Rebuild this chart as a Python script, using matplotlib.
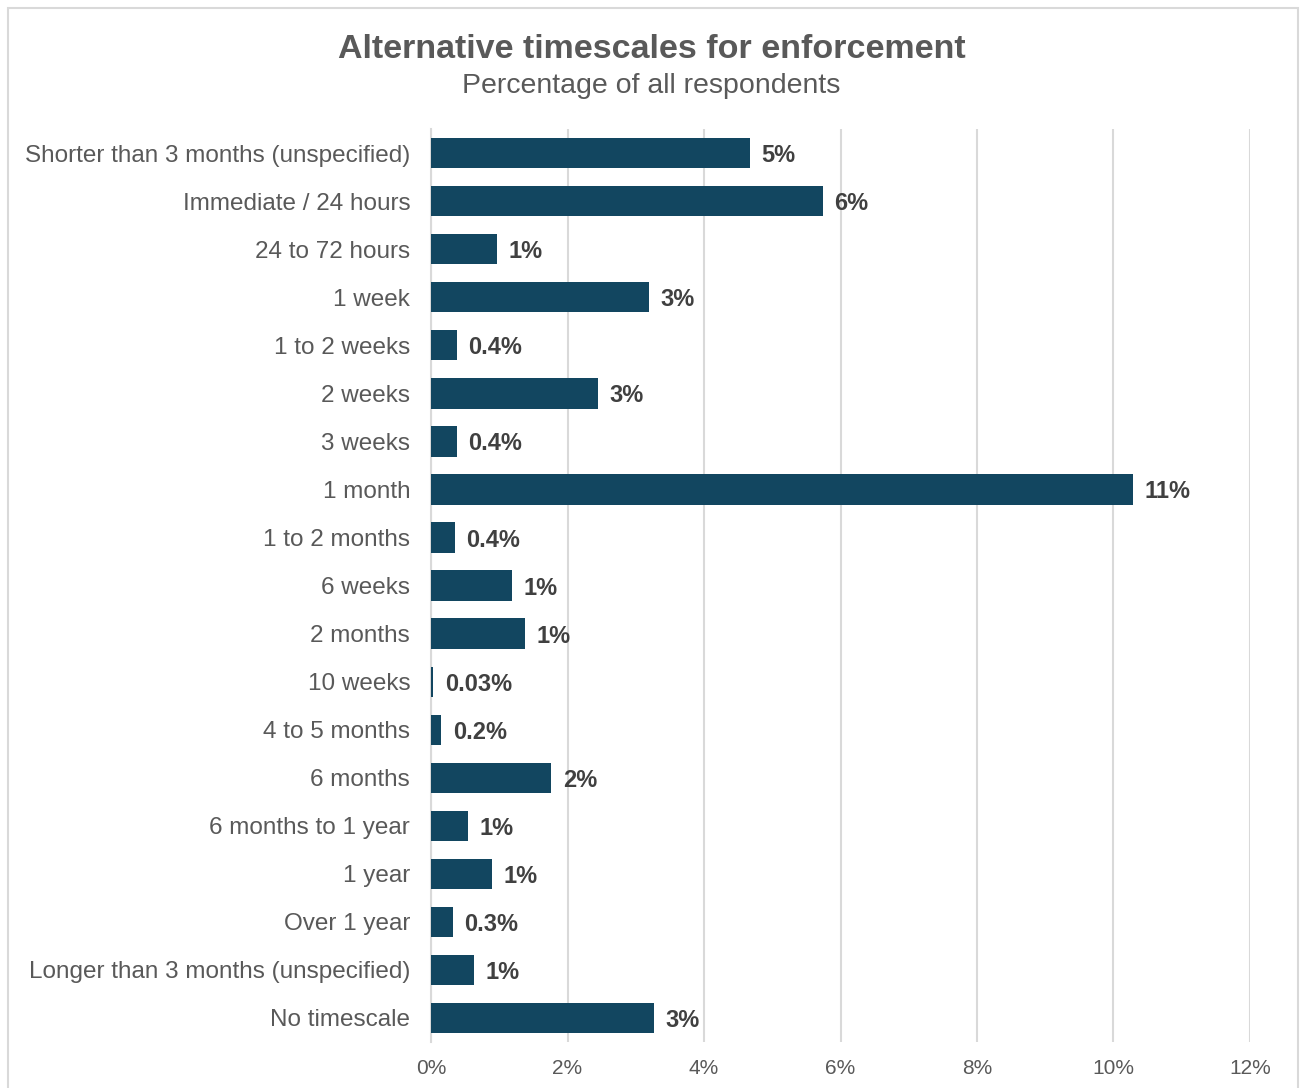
import matplotlib.pyplot as plt
from matplotlib.patches import Rectangle
from matplotlib.ticker import FuncFormatter

# Alternative timescales for enforcement (% of all respondents)
categories = [
    "Shorter than 3 months (unspecified)",
    "Immediate / 24 hours",
    "24 to 72 hours",
    "1 week",
    "1 to 2 weeks",
    "2 weeks",
    "3 weeks",
    "1 month",
    "1 to 2 months",
    "6 weeks",
    "2 months",
    "10 weeks",
    "4 to 5 months",
    "6 months",
    "6 months to 1 year",
    "1 year",
    "Over 1 year",
    "Longer than 3 months (unspecified)",
    "No timescale",
]
values = [4.67, 5.74, 0.97, 3.19, 0.38, 2.45, 0.38, 10.29, 0.35, 1.19,
          1.38, 0.03, 0.15, 1.76, 0.54, 0.89, 0.32, 0.63, 3.27]
value_labels = ["5%", "6%", "1%", "3%", "0.4%", "3%", "0.4%", "11%", "0.4%", "1%",
                "1%", "0.03%", "0.2%", "2%", "1%", "1%", "0.3%", "1%", "3%"]
x_ticks = [0, 2, 4, 6, 8, 10, 12]

BAR_COLOR = "#124660"
TEXT_GREY = "#595959"
LABEL_DARK = "#404040"
GRID_GREY = "#d9d9d9"

plt.rcParams["font.family"] = ["Liberation Sans", "DejaVu Sans"]

fig = plt.figure(figsize=(13.03, 10.88), dpi=100)
ax = fig.add_axes([0.3308, 0.0423, 0.6285, 0.839])

# outer chart border
fig.patches.append(Rectangle((8 / 1303, -0.02), 1290 / 1303, 1.02 - 8 / 1088,
                             transform=fig.transFigure, fill=False,
                             edgecolor="#d9d9d9", linewidth=1.5))

y = list(range(len(categories)))
ax.barh(y, values, height=0.63, color=BAR_COLOR, zorder=3)

for yi, v, lab in zip(y, values, value_labels):
    ax.text(v + 0.17, yi, lab, va="center_baseline", ha="left", fontsize=17,
            fontweight="bold", color=LABEL_DARK, zorder=4)

ax.set_ylim(len(categories) - 0.5, -0.5)
ax.set_xlim(0, 12)
ax.set_yticks(y)
ax.set_yticklabels(categories, fontsize=17.5, color=TEXT_GREY)
ax.set_xticks(x_ticks)
ax.xaxis.set_major_formatter(FuncFormatter(lambda v, _: f"{v:.0f}%"))
ax.tick_params(axis="x", labelsize=15, colors=TEXT_GREY, length=0, pad=12)
ax.tick_params(axis="y", length=0, pad=15)

ax.grid(axis="x", color=GRID_GREY, linewidth=1.5, zorder=0)
for side in ["top", "right", "bottom"]:
    ax.spines[side].set_visible(False)
ax.spines["left"].set_color(GRID_GREY)
ax.spines["left"].set_linewidth(1.5)

fig.text(0.5, 1 - 50 / 1088, "Alternative timescales for enforcement",
         ha="center", va="center", fontsize=24.5, fontweight="bold", color=TEXT_GREY)
fig.text(0.5, 1 - 86 / 1088, "Percentage of all respondents",
         ha="center", va="center", fontsize=20.5, color=TEXT_GREY)

fig.savefig("out.png", dpi=100, facecolor="white")
